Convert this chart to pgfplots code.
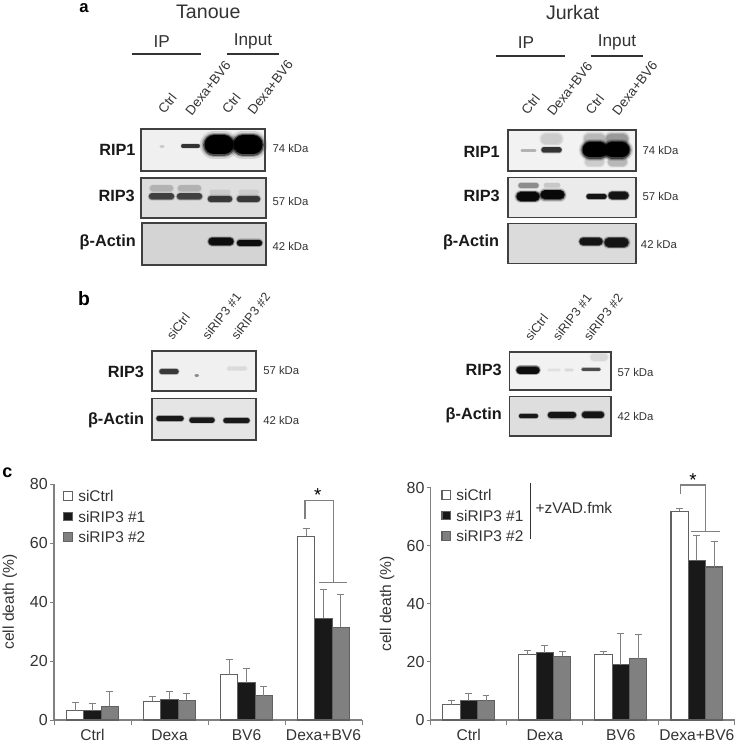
\documentclass[border=0pt]{standalone}
\usepackage{fontspec}
\setmainfont{Liberation Sans}
\usepackage{pgfplots}
\pgfplotsset{compat=1.18}

% all positions in the blot axis are image pixels, 1 px = 0.75 pt
\def\px{0.75pt}
\newcommand\fs[1]{\fontsize{#1}{#1}\selectfont}
\definecolor{txt}{gray}{0.2}
\definecolor{axisgray}{gray}{0.5}
\definecolor{barline}{gray}{0.38}
\definecolor{bardark}{gray}{0.1}
\definecolor{barmid}{gray}{0.5}

% x1 x2 y thickness darkness
\newcommand\band[5]{%
  \addplot[forget plot,line cap=round,color=black!#5,opacity=.12,line width=1.5*#4*\px] coordinates {(#1,#3) (#2,#3)};
  \addplot[forget plot,line cap=round,color=black!#5,opacity=.25,line width=1.3*#4*\px] coordinates {(#1,#3) (#2,#3)};
  \addplot[forget plot,line cap=round,color=black!#5,opacity=.5,line width=1.15*#4*\px] coordinates {(#1,#3) (#2,#3)};
  \addplot[forget plot,line cap=round,color=black!#5,line width=#4*\px] coordinates {(#1,#3) (#2,#3)};
}
\newcommand\panelbg[5]{\addplot[forget plot,draw=none,fill=black!#5] coordinates {(#1,#2) (#3,#2) (#3,#4) (#1,#4)} --cycle;}
\newcommand\panelframe[4]{\addplot[forget plot,draw=black!75,line width=1.6*\px] coordinates {(#1,#2) (#3,#2) (#3,#4) (#1,#4)} --cycle;}
\newcommand\seg[4]{\addplot[forget plot,color=txt,line width=1.6*\px] coordinates {(#1,#2) (#3,#4)};}
\newcommand\gline[4]{\addplot[forget plot,color=axisgray,line width=1.1*\px] coordinates {(#1,#2) (#3,#4)};}
\newcommand\lane[3]{\node[rotate=52,anchor=base west,text=txt,font=\fs{10}] at (#1,#2) {#3};}
\newcommand\lanesi[3]{\node[rotate=52,anchor=base west,text=txt,font=\fs{9.4}] at (#1,#2) {#3};}
\newcommand\blotname[3]{\node[anchor=east,font=\bfseries\fs{12.2},text=black!90,inner sep=0pt] at (#1,#2) {#3};}
\newcommand\kda[3]{\node[anchor=west,font=\fs{8.5},text=txt,inner sep=0pt] at (#1,#2) {#3 kDa};}

\pgfplotsset{
  deathbars/.style={
    ybar=0pt,
    scale only axis,
    bar width=17.3*\px,
    xmin=-0.5,xmax=3.5,ymin=0,ymax=80,
    axis lines*=left,
    axis line style={-,color=axisgray,line width=1.1*\px},
    xtick={0,1,2,3},
    xticklabels={Ctrl,Dexa,BV6,Dexa+BV6},
    minor xtick={-0.5,0.5,1.5,2.5,3.5},
    ytick={0,20,40,60,80},
    tick align=outside,
    major x tick style={draw=none},
    minor x tick style={color=axisgray,line width=1*\px},
    y tick style={color=axisgray,line width=1*\px},
    major tick length=4*\px,
    minor tick length=5*\px,
    /pgf/number format/assume math mode=true,
    yticklabel style={font=\fs{12},text=txt,inner sep=1.5pt},
    xticklabel style={font=\fs{11.7},text=txt,inner sep=0pt,yshift=-4pt},
    ylabel={cell death (\%)},
    every axis y label/.style={at={(axis description cs:-0.143,0.5)},rotate=90,anchor=center,font=\fs{11.7},text=txt},
    clip=false,
    legend style={draw=none,fill=none,font=\fs{11.6},text=txt,inner sep=0pt,outer sep=0pt,
      anchor=north west,row sep=5.5pt,column sep=4pt,
      nodes={inner sep=0pt,anchor=base west}},
    legend cell align=left,
    legend image code/.code={\draw[##1,line width=.9pt] (0pt,1pt) rectangle (6.4pt,7.4pt);},
    every axis plot/.append style={draw=barline,line width=1.1*\px,
      error bars/y dir=plus,error bars/y explicit,
      error bars/error bar style={color=axisgray,line width=1*\px},
      error bars/error mark options={rotate=90,color=axisgray,mark size=2.6pt,line width=1*\px}},
  }
}

\begin{document}
\begin{tikzpicture}
\path[use as bounding box] (0,0) rectangle (552pt,561pt);

\begin{axis}[
  at={(0,0)},anchor=south west,scale only axis,width=552pt,height=561pt,
  xmin=0,xmax=736,ymin=0,ymax=748,y dir=reverse,axis lines=none,clip=false,
]
% panel a, Tanoue
\panelbg{141}{129}{265}{171}{6}
\band{161}{163}{146.5}{2.5}{20}
\band{183}{198}{146}{3.5}{80}
\band{214}{224}{145}{19}{100}
\band{243}{253}{145}{19}{100}
\panelframe{141}{129}{265}{171}
\panelbg{141}{178}{266}{218}{13}
\band{153}{170}{188.5}{6}{30}
\band{181}{198}{188.5}{6}{30}
\band{152}{171}{196.5}{6}{75}
\band{180}{199}{196.5}{6}{75}
\band{212}{228}{192}{4}{20}
\band{241}{257}{192}{4}{20}
\band{211}{229}{199}{6}{78}
\band{240}{257}{199}{6}{78}
\panelframe{141}{178}{266}{218}
\panelbg{142}{223}{266}{265}{17}
\band{212}{230}{241.5}{7}{95}
\band{240}{259}{243}{6}{95}
\panelframe{142}{223}{266}{265}
% panel a, Jurkat
\panelbg{508}{130}{636}{171}{5}
\band{522}{535}{150.5}{2.5}{30}
\band{546}{557}{139}{10}{20}
\band{544}{559}{150}{5}{80}
\band{589}{600}{139}{10}{28}
\band{611}{623}{139}{10}{40}
\band{589}{600}{162}{8}{20}
\band{612}{623}{162}{8}{28}
\band{590}{600}{150}{15}{100}
\band{612}{622}{150}{15}{100}
\panelframe{508}{130}{636}{171}
\panelbg{508}{177.5}{636}{217.5}{8}
\band{521}{536}{185.5}{5}{45}
\band{546}{558}{185.5}{4}{22}
\band{521}{535}{196.5}{9}{97}
\band{545}{560}{195}{9}{97}
\band{589}{604}{196.5}{5}{92}
\band{612}{625}{195.5}{7}{92}
\panelframe{508}{177.5}{636}{217.5}
\panelbg{508}{223.5}{636}{263.5}{14}
\band{583}{599}{241.5}{7}{92}
\band{609}{624}{242.5}{9}{92}
\panelframe{508}{223.5}{636}{263.5}
% panel b
\panelbg{152}{351}{256}{391}{6}
\band{162}{176}{371.5}{5}{78}
\band{196}{197.5}{375.5}{2.5}{45}
\band{229}{245}{368.5}{3.5}{14}
\panelframe{152}{351}{256}{391}
\panelbg{152}{398.5}{256}{440}{10}
\band{159}{181}{418.5}{5}{90}
\band{192}{212}{420}{5}{90}
\band{226}{247}{420.5}{5}{90}
\panelframe{152}{398.5}{256}{440}
\panelbg{509.5}{352}{611}{390}{5}
\band{520}{536}{370}{7}{95}
\band{549}{559}{370}{2.5}{12}
\band{566}{572}{370}{2.5}{15}
\band{583}{599}{369.3}{3}{70}
\band{594}{604}{357}{7}{15}
\panelframe{509.5}{352}{611}{390}
\panelbg{509.5}{396.5}{611}{436}{13}
\band{521}{536}{416}{4}{90}
\band{551}{573}{415}{6}{92}
\band{585}{601}{414.7}{6}{92}
\panelframe{509.5}{396.5}{611}{436}

% headers and section rules
\seg{131.7}{54.3}{200.7}{54.3}
\seg{226.7}{54.3}{279.3}{54.3}
\seg{496}{56}{565}{56}
\seg{591}{56}{643.3}{56}
% brackets and the zVAD rule, panel c
\addplot[forget plot,color=axisgray,line width=1.1*\px] coordinates {(305,519.3) (305,500.7) (333.3,500.7) (333.3,582.7)};
\gline{319.3}{582.7}{347.3}{582.7}
\addplot[forget plot,color=axisgray,line width=1.1*\px] coordinates {(680.7,494) (680.7,485) (705.3,485) (705.3,531.3)};
\gline{691.3}{531.3}{719.7}{531.3}
\addplot[forget plot,color=txt,line width=1*\px] coordinates {(530.3,482.7) (530.3,539)};

\node[font=\bfseries\fs{12.5},text=black,inner sep=0pt] at (84,8.5) {a};
\node[font=\bfseries\fs{14.5},text=black,inner sep=0pt] at (84,299) {b};
\node[font=\bfseries\fs{13.5},text=black,inner sep=0pt] at (7.5,473) {c};
\node[font=\fs{14.7},text=txt] at (208.3,12) {Tanoue};
\node[font=\fs{14.7},text=txt] at (572.7,12.7) {Jurkat};
\node[font=\fs{12.9},text=txt] at (161.7,41.5) {IP};
\node[font=\fs{12.9},text=txt] at (253,41.5) {Input};
\node[font=\fs{12.9},text=txt] at (526,42.3) {IP};
\node[font=\fs{12.9},text=txt] at (617,42.3) {Input};

\lane{161.7}{118.3}{Ctrl}
\lane{189}{120}{Dexa+BV6}
\lane{225.7}{118.3}{Ctrl}
\lane{251.3}{119.3}{Dexa+BV6}
\lane{525}{119.3}{Ctrl}
\lane{550.7}{120.7}{Dexa+BV6}
\lane{589.3}{119.3}{Ctrl}
\lane{615.7}{120}{Dexa+BV6}
\lanesi{170}{344}{siCtrl}
\lanesi{205.5}{344}{siRIP3 \#1}
\lanesi{234.5}{344}{siRIP3 \#2}
\lanesi{528.3}{345}{siCtrl}
\lanesi{556}{345}{siRIP3 \#1}
\lanesi{587}{345}{siRIP3 \#2}

\blotname{135.7}{150}{RIP1}
\blotname{135}{196}{RIP3}
\blotname{136}{242}{β-Actin}
\blotname{500}{151.7}{RIP1}
\blotname{500}{196}{RIP3}
\blotname{499.3}{242.3}{β-Actin}
\blotname{144.3}{371.7}{RIP3}
\blotname{144.3}{420}{β-Actin}
\blotname{502}{370}{RIP3}
\blotname{502}{415}{β-Actin}

\kda{272.3}{148.3}{74}
\kda{272.3}{201}{57}
\kda{272.3}{246}{42}
\kda{642.3}{150.7}{74}
\kda{642.3}{196.7}{57}
\kda{640.7}{244}{42}
\kda{263}{370.7}{57}
\kda{263}{420.3}{42}
\kda{617.3}{372}{57}
\kda{617.3}{416.7}{42}

\node[font=\fs{14},text=black] at (317.7,495) {*};
\node[font=\fs{14},text=black] at (693,480.5) {*};
\node[anchor=west,inner sep=0pt,font=\fs{11.6},text=txt] at (535.3,508.3) {+zVAD.fmk};
\end{axis}

% panel c, left
\begin{axis}[deathbars,at={(40.5pt,21pt)},anchor=south west,width=231pt,height=177pt,
  legend style={at={(axis description cs:0.03,0.973)}}]
\addplot[fill=white] coordinates {(0,3.2) +- (0,2.6) (1,6.3) +- (0,1.6) (2,15.4) +- (0,5.0) (3,62.3) +- (0,2.7)};
\addplot[fill=bardark] coordinates {(0,3.2) +- (0,2.4) (1,7.1) +- (0,2.4) (2,12.7) +- (0,4.6) (3,34.5) +- (0,9.8)};
\addplot[fill=barmid] coordinates {(0,4.7) +- (0,4.8) (1,6.7) +- (0,2.4) (2,8.3) +- (0,3.2) (3,31.5) +- (0,11.2)};
\legend{siCtrl,siRIP3 \#1,siRIP3 \#2}
\end{axis}

% panel c, right
\begin{axis}[deathbars,at={(323pt,21pt)},anchor=south west,width=228.2pt,height=174.2pt,
  legend style={at={(axis description cs:0.035,0.993)}}]
\addplot[fill=white] coordinates {(0,5.3) +- (0,1.4) (1,22.5) +- (0,1.4) (2,22.5) +- (0,1.1) (3,71.9) +- (0,1.1)};
\addplot[fill=bardark] coordinates {(0,6.7) +- (0,2.5) (1,23.1) +- (0,2.4) (2,19.0) +- (0,10.8) (3,55.0) +- (0,8.4)};
\addplot[fill=barmid] coordinates {(0,6.7) +- (0,1.8) (1,21.9) +- (0,1.7) (2,21.1) +- (0,8.4) (3,52.7) +- (0,8.9)};
\legend{siCtrl,siRIP3 \#1,siRIP3 \#2}
\end{axis}
\end{tikzpicture}
\end{document}
